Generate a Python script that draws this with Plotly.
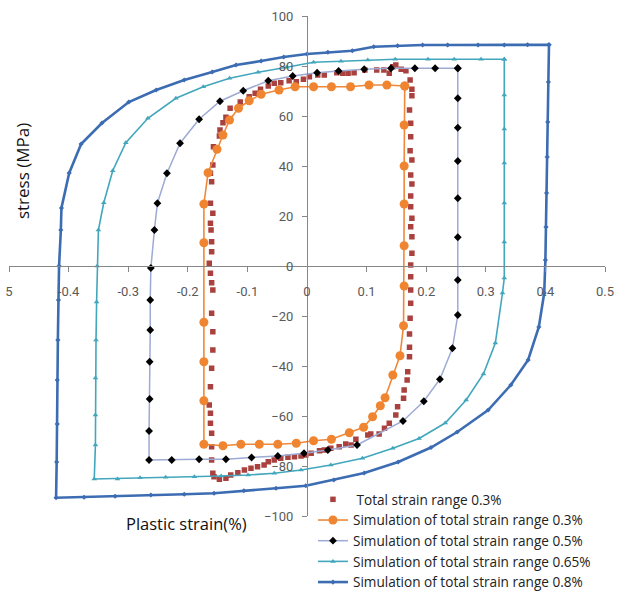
import plotly.graph_objects as go

# ---------------- data (plastic strain %, stress MPa) ----------------
exp03_x = [-0.158, -0.160, -0.160, -0.160, -0.162, -0.162, -0.164, -0.162, -0.160, -0.158,
           -0.158, -0.160, -0.158, -0.160, -0.162, -0.164, -0.160, -0.160, -0.161, -0.162,
           -0.158, -0.162, -0.160, -0.162, -0.158, -0.157, -0.147, -0.146, -0.141, -0.136,
           -0.129, -0.112, -0.097, -0.087, -0.078, -0.065, -0.055, -0.044, -0.030, -0.018,
           -0.006, 0.004, 0.018, 0.029, 0.050, 0.060, 0.069, 0.079, 0.097, 0.117,
           0.129, 0.138, 0.144, 0.149, 0.158, 0.166, 0.173, 0.176, 0.176, 0.172,
           0.174, 0.174, 0.173, 0.176, 0.174, 0.176, 0.174, 0.174, 0.176, 0.174,
           0.176, 0.176, 0.174, 0.174, 0.174, 0.174, 0.173, 0.172, 0.172, 0.172,
           0.169, 0.168, 0.163, 0.162, 0.152, 0.149, 0.138, 0.130, 0.121, 0.107,
           0.102, 0.082, 0.074, 0.065, 0.054, 0.040, 0.029, 0.021, 0.007, -0.002,
           -0.010, -0.021, -0.032, -0.044, -0.055, -0.065, -0.072, -0.083, -0.094, -0.105,
           -0.116, -0.128, -0.136, -0.147, -0.156]
exp03_y = [-82.9, -77.6, -72.3, -66.9, -62.9, -58.9, -55.6, -48.3, -40.9, -33.6,
           -26.3, -18.9, -9.6, -6.7, -2.9, 1.1, 5.7, 9.7, 14.4, 17.1,
           21.1, 25.1, 33.7, 37.1, 40.4, 47.7, 52.0, 54.4, 57.3, 59.5,
           63.1, 65.6, 67.7, 69.1, 70.7, 72.0, 73.1, 73.3, 74.1, 73.7,
           74.7, 75.7, 76.4, 76.4, 77.3, 77.1, 77.1, 77.3, 78.4, 78.4,
           78.4, 77.1, 79.7, 80.4, 78.7, 78.1, 74.4, 70.7, 68.1, 62.4,
           57.1, 51.7, 46.1, 42.4, 36.4, 32.8, 28.0, 23.7, 19.1, 15.7,
           11.7, 5.1, 0.4, -4.3, -9.6, -14.9, -20.9, -27.2, -32.5, -36.3,
           -42.3, -45.6, -49.6, -52.9, -56.3, -59.6, -62.9, -64.9, -67.2, -67.2,
           -67.6, -69.3, -71.6, -71.2, -72.3, -72.9, -73.6, -73.9, -74.9, -75.6,
           -76.0, -76.3, -76.5, -76.9, -77.6, -78.3, -79.6, -80.3, -80.9, -81.6,
           -82.7, -83.6, -84.9, -85.3, -84.3]

sim03_x = [0.164, 0.163, 0.163, 0.163, 0.163, 0.163, 0.162, 0.156, 0.144, 0.131,
           0.123, 0.110, 0.095, 0.071, 0.041, 0.011, -0.018, -0.049, -0.080, -0.111,
           -0.141, -0.173, -0.173, -0.173, -0.173, -0.173, -0.173, -0.166, -0.151, -0.141,
           -0.130, -0.115, -0.097, -0.077, -0.047, -0.020, 0.011, 0.041, 0.073, 0.104,
           0.134, 0.164]
sim03_y = [72.0, 56.4, 40.0, 24.8, 8.1, -8.0, -23.9, -35.9, -43.6, -52.7,
           -55.9, -60.3, -64.5, -66.7, -69.3, -69.9, -70.9, -71.3, -71.3, -71.3,
           -71.9, -71.3, -53.9, -38.3, -22.5, 9.3, 24.8, 37.3, 46.7, 52.4,
           58.4, 63.1, 66.1, 68.7, 70.4, 71.7, 71.7, 71.7, 71.7, 72.4,
           72.4, 72.0]

sim05_x = [0.253, 0.253, 0.253, 0.253, 0.253, 0.253, 0.253, 0.253, 0.244, 0.223,
           0.196, 0.161, 0.084, 0.035, -0.005, -0.049, -0.093, -0.136, -0.181, -0.227,
           -0.265, -0.265, -0.264, -0.264, -0.263, -0.263, -0.262, -0.256, -0.251, -0.235,
           -0.213, -0.181, -0.146, -0.107, -0.065, -0.024, 0.017, 0.053, 0.096, 0.141,
           0.181, 0.215, 0.253]
sim05_y = [79.1, 67.1, 55.3, 42.0, 27.1, 11.5, -5.6, -19.6, -32.9, -45.3,
           -54.1, -62.0, -71.6, -73.6, -74.9, -76.0, -76.6, -77.3, -77.3, -77.6,
           -77.6, -66.0, -53.2, -38.3, -25.6, -13.6, -0.8, 14.4, 25.1, 37.1,
           49.1, 58.7, 65.9, 70.1, 74.1, 76.0, 77.3, 78.0, 78.7, 79.1,
           79.1, 79.1, 79.1]

sim065_x = [0.331, 0.331, 0.331, 0.331, 0.331, 0.331, 0.331, 0.328, 0.316, 0.296,
            0.267, 0.232, 0.188, 0.144, 0.093, 0.040, -0.010, -0.055, -0.099, -0.144,
            -0.189, -0.237, -0.280, -0.318, -0.357, -0.355, -0.355, -0.355, -0.354, -0.353,
            -0.352, -0.350, -0.341, -0.326, -0.304, -0.267, -0.220, -0.174, -0.130, -0.082,
            -0.034, 0.011, 0.057, 0.102, 0.148, 0.203, 0.247, 0.292, 0.331]
sim065_y = [82.7, 68.4, 54.8, 41.2, 25.2, 9.6, -4.8, -10.8, -30.8, -43.2,
            -53.6, -62.8, -69.0, -72.9, -76.9, -79.6, -81.6, -82.9, -83.6, -84.0,
            -84.3, -84.5, -84.7, -85.2, -85.2, -71.6, -59.6, -44.8, -29.6, -14.4,
            0.0, 14.4, 25.3, 38.1, 49.3, 59.1, 67.1, 71.7, 75.1, 77.5,
            79.5, 81.5, 81.9, 82.4, 82.7, 82.7, 82.7, 82.7, 82.7]

sim08_x = [0.406, 0.405, 0.404, 0.403, 0.402, 0.401, 0.400, 0.398, 0.389, 0.371,
           0.342, 0.304, 0.252, 0.208, 0.153, 0.096, 0.045, -0.002, -0.052, -0.106,
           -0.156, -0.206, -0.262, -0.322, -0.374, -0.421, -0.420, -0.419, -0.419, -0.418,
           -0.417, -0.416, -0.413, -0.412, -0.399, -0.379, -0.344, -0.299, -0.253, -0.206,
           -0.159, -0.119, -0.077, -0.039, 0.000, 0.035, 0.076, 0.112, 0.152, 0.194,
           0.236, 0.287, 0.331, 0.370, 0.406]
sim08_y = [88.5, 73.6, 57.6, 43.6, 29.2, 15.6, 2.4, -10.8, -24.4, -37.6,
           -47.6, -57.6, -66.4, -72.6, -78.4, -82.8, -85.6, -87.9, -88.9, -89.9,
           -90.9, -91.3, -91.6, -92.1, -92.5, -92.7, -78.4, -63.2, -45.6, -29.6,
           -13.6, 0.0, 14.4, 23.2, 37.2, 48.8, 57.2, 65.6, 70.4, 74.4,
           77.6, 80.4, 82.0, 83.6, 84.8, 85.5, 86.1, 87.7, 88.1, 88.4,
           88.4, 88.4, 88.4, 88.5, 88.5]

x_tickvals = [-0.5, -0.4, -0.3, -0.2, -0.1, 0, 0.1, 0.2, 0.3, 0.4, 0.5]
x_ticktext = ["5", "-0.4", "-0.3", "-0.2", "-0.1", "0", "0.1", "0.2", "0.3", "0.4", "0.5"]
y_tickvals = [-100, -80, -60, -40, -20, 0, 20, 40, 60, 80, 100]

names = ["\u00a0Total strain range 0.3%",
         "Simulation of total strain range 0.3%",
         "Simulation of total strain range 0.5%",
         "Simulation of total strain range 0.65%",
         "Simulation of total strain range 0.8%"]

TICKFONT = "Roboto, Open Sans, sans-serif"
TEXTFONT = "Open Sans, Roboto, sans-serif"

fig = go.Figure()
fig.add_trace(go.Scatter(x=exp03_x, y=exp03_y, mode="markers", name=names[0],
                         marker=dict(symbol="square", size=5.5, color="#A9423F")))
fig.add_trace(go.Scatter(x=sim03_x, y=sim03_y, mode="lines+markers", name=names[1],
                         line=dict(color="#F0883A", width=1.6),
                         marker=dict(symbol="circle", size=9, color="#EF8530")))
fig.add_trace(go.Scatter(x=sim05_x, y=sim05_y, mode="lines+markers", name=names[2],
                         line=dict(color="#9DAAD4", width=1.5),
                         marker=dict(symbol="diamond", size=6, color="#000000")))
fig.add_trace(go.Scatter(x=sim065_x, y=sim065_y, mode="lines+markers", name=names[3],
                         line=dict(color="#42A6BC", width=1.6),
                         marker=dict(symbol="triangle-up", size=5, color="#42A6BC")))
fig.add_trace(go.Scatter(x=sim08_x, y=sim08_y, mode="lines+markers", name=names[4],
                         line=dict(color="#3C6CB2", width=2.6),
                         marker=dict(symbol="diamond", size=4, color="#3C6CB2")))

axis_common = dict(showgrid=False, zeroline=False, showline=True, linecolor="#878787",
                   linewidth=1, ticks="outside", ticklen=5, tickcolor="#878787",
                   tickfont=dict(family=TICKFONT, size=13, color="#595959"),
                   anchor="free", position=0.5, automargin=False)

fig.update_layout(
    width=617, height=592,
    margin=dict(l=9, r=12, t=16, b=76, autoexpand=False),
    paper_bgcolor="white", plot_bgcolor="white",
    font=dict(family=TEXTFONT, color="#222222"),
    xaxis=dict(range=[-0.5, 0.5], tickvals=x_tickvals, ticktext=x_ticktext,
               ticklabelstandoff=8, **axis_common),
    yaxis=dict(range=[-100, 100], tickvals=y_tickvals, ticklabelstandoff=6, **axis_common),
    legend=dict(x=0.51, y=0.064, xanchor="left", yanchor="top",
                bgcolor="rgba(0,0,0,0)", font=dict(family=TEXTFONT, size=13.6, color="#222222"),
                tracegroupgap=0, itemwidth=30),
    annotations=[
        dict(text="stress (MPa)", xref="paper", yref="paper", x=0.022, y=0.69,
             xanchor="center", yanchor="middle",
             textangle=-90, showarrow=False, font=dict(family=TEXTFONT, size=17, color="#111111")),
        dict(text="Plastic strain(%)", xref="paper", yref="paper", x=0.297, y=-0.014,
             xanchor="center", yanchor="middle",
             showarrow=False, font=dict(family=TEXTFONT, size=16.5, color="#111111")),
    ],
)

fig.write_html("out.html", config={"displayModeBar": False},
               post_script="document.body.style.margin='0';document.body.style.overflow='hidden';")
